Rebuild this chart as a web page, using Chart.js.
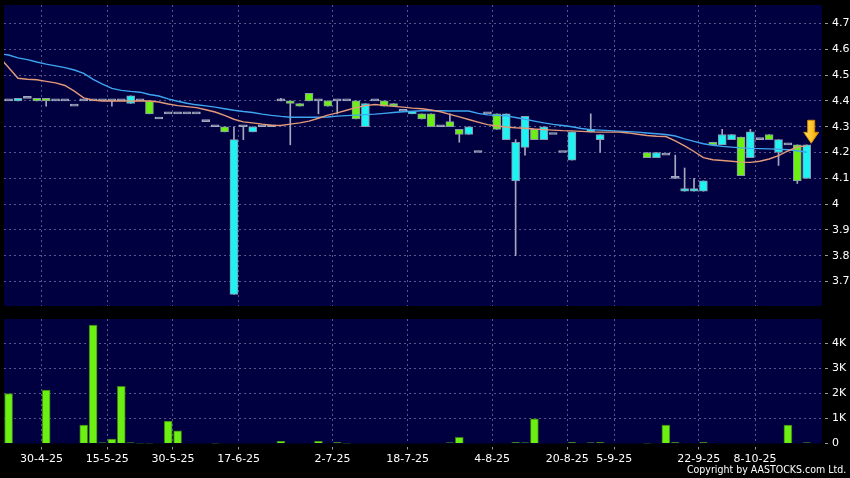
<!DOCTYPE html>
<html>
<head>
<meta charset="utf-8">
<script src="https://cdn.jsdelivr.net/npm/chart.js@4.4.1/dist/chart.umd.min.js"></script>
<style>
  html, body { margin:0; padding:0; background:#000; }
  body { width:850px; height:478px; position:relative; overflow:hidden; }
  canvas { position:absolute; left:0; display:block; }
  #priceCanvas { top:0; }
  #volCanvas { top:310px; }
  #copyright { position:absolute; right:4px; top:464px; color:#fff; font:11px "DejaVu Sans", sans-serif; line-height:12px; white-space:nowrap; transform:scaleX(0.86); transform-origin:right center; }
</style>
</head>
<body>
<canvas id="priceCanvas" width="850" height="310"></canvas>
<canvas id="volCanvas" width="850" height="168"></canvas>
<div id="copyright">Copyright by AASTOCKS.com Ltd.</div>
<script>
// ---------- data (slot 0 is the partly hidden session before the first visible candle) ----------
const dateTickPos    = [4.5, 11.5, 18.5, 25.5, 35.5, 43.5, 52.5, 60.5, 65.5, 74.5, 80.5];
const dateTickLabels = ['30-4-25','15-5-25','30-5-25','17-6-25','2-7-25','18-7-25','4-8-25','20-8-25','5-9-25','22-9-25','8-10-25'];
const priceTicks      = [3.7, 3.8, 3.9, 4.0, 4.1, 4.2, 4.3, 4.4, 4.5, 4.6, 4.7];
const priceTickLabels = ['3.7','3.8','3.9','4','4.1','4.2','4.3','4.4','4.5','4.6','4.7'];
const volTicks      = [0, 1000, 2000, 3000, 4000];
const volTickLabels = ['0','1K','2K','3K','4K'];

const openP = [null,
4.40,4.40,4.41,4.41,4.41,4.40,4.40,4.38,4.40,4.40,
4.40,4.40,4.40,4.39,4.40,4.40,4.33,4.35,4.35,4.35,
4.35,4.32,4.30,4.30,3.65,4.30,4.28,4.30,4.30,4.40,
4.40,4.39,4.43,4.40,4.40,4.40,4.40,4.40,4.30,4.40,
4.40,4.39,4.36,4.35,4.35,4.35,4.30,4.32,4.29,4.27,
4.20,4.35,4.35,4.25,4.09,4.22,4.29,4.25,4.27,4.20,
4.17,null,4.28,4.25,null,null,null,null,4.20,4.18,
4.19,4.10,4.05,4.05,4.05,4.24,4.23,4.25,4.26,4.18,
4.25,4.27,4.20,4.23,4.23,4.10];
const highP = [null,
4.40,4.41,4.41,4.41,4.41,4.40,4.40,4.38,4.40,4.40,
4.40,4.40,4.40,4.42,4.40,4.40,4.33,4.35,4.35,4.35,
4.35,4.32,4.30,4.30,4.30,4.30,4.30,4.30,4.30,4.41,
4.40,4.39,4.43,4.40,4.40,4.40,4.40,4.40,4.39,4.40,
4.40,4.39,4.36,4.36,4.35,4.35,4.30,4.35,4.29,4.30,
4.20,4.35,4.35,4.35,4.25,4.34,4.29,4.30,4.27,4.20,
4.28,null,4.35,4.27,null,null,null,null,4.20,4.20,
4.19,4.19,4.14,4.10,4.09,4.24,4.29,4.27,4.26,4.29,
4.25,4.27,4.25,4.23,4.23,4.23];
const lowP = [null,
4.40,4.40,4.41,4.40,4.38,4.40,4.40,4.38,4.40,4.40,
4.40,4.38,4.40,4.39,4.40,4.35,4.33,4.35,4.35,4.35,
4.35,4.32,4.30,4.28,3.65,4.25,4.28,4.30,4.30,4.40,
4.23,4.38,4.40,4.35,4.38,4.35,4.40,4.33,4.30,4.40,
4.38,4.38,4.36,4.35,4.33,4.30,4.30,4.30,4.24,4.27,
4.20,4.35,4.29,4.25,3.80,4.19,4.25,4.25,4.27,4.20,
4.17,null,4.28,4.20,null,null,null,null,4.18,4.18,
4.19,4.10,4.05,4.05,4.05,4.23,4.23,4.25,4.11,4.18,
4.25,4.25,4.15,4.23,4.08,4.10];
const closeP = [null,
4.40,4.41,4.41,4.40,4.40,4.40,4.40,4.38,4.40,4.40,
4.40,4.40,4.40,4.42,4.40,4.35,4.33,4.35,4.35,4.35,
4.35,4.32,4.30,4.28,4.25,4.30,4.30,4.30,4.30,4.40,
4.39,4.38,4.40,4.40,4.38,4.40,4.40,4.33,4.39,4.40,
4.38,4.38,4.36,4.36,4.33,4.30,4.30,4.30,4.27,4.30,
4.20,4.35,4.29,4.35,4.24,4.34,4.25,4.30,4.27,4.20,
4.28,null,4.29,4.27,null,null,null,null,4.18,4.20,
4.19,4.10,4.06,4.06,4.09,4.23,4.27,4.27,4.11,4.28,
4.25,4.25,4.25,4.23,4.09,4.23];
const volume = [0,
2000,0,0,0,2140,0,0,0,740,4740,
30,180,2290,30,10,10,0,900,510,0,
0,0,10,0,0,0,0,0,0,90,
0,0,0,90,0,40,10,0,0,0,
0,0,0,0,0,0,0,30,250,0,
0,0,0,0,40,30,990,0,0,20,
40,0,30,40,0,0,0,0,10,0,
740,40,0,0,40,0,0,0,0,0,
0,0,0,740,0,30];
const ma10 = [4.570,
4.530,4.488,4.484,4.482,4.476,4.470,4.460,4.438,4.412,4.403,
4.400,4.400,4.400,4.400,4.400,4.400,4.396,4.388,4.382,4.378,
4.374,4.366,4.357,4.344,4.329,4.319,4.315,4.310,4.306,4.305,
4.310,4.315,4.322,4.333,4.345,4.354,4.364,4.374,4.382,4.386,
4.383,4.379,4.376,4.372,4.370,4.365,4.358,4.348,4.338,4.328,
4.318,4.308,4.303,4.299,4.296,4.294,4.291,4.289,4.287,4.285,
4.284,4.282,4.280,4.279,4.279,4.279,4.276,4.271,4.266,4.263,
4.262,4.245,4.226,4.204,4.180,4.172,4.169,4.166,4.163,4.162,
4.166,4.175,4.188,4.206,4.222,4.226];
const ma20 = [4.583,
4.578,4.567,4.560,4.551,4.543,4.536,4.529,4.520,4.507,4.484,
4.465,4.449,4.441,4.437,4.434,4.425,4.419,4.408,4.399,4.391,
4.385,4.381,4.376,4.370,4.364,4.359,4.355,4.349,4.344,4.340,
4.337,4.337,4.337,4.337,4.338,4.341,4.343,4.345,4.347,4.349,
4.352,4.355,4.358,4.360,4.362,4.362,4.362,4.361,4.361,4.361,
4.352,4.346,4.344,4.342,4.336,4.329,4.322,4.315,4.309,4.305,
4.300,4.293,4.289,4.287,4.285,4.283,4.281,4.279,4.276,4.273,
4.270,4.264,4.253,4.243,4.234,4.228,4.224,4.221,4.218,4.216,
4.215,4.214,4.213,4.211,4.207,4.201];

// ---------- styles ----------
const NAVY = '#000040', GRID = '#56568a', TXT = '#ffffff', TICKC = '#9a9aa8';
const CYAN = '#1ef2f2', GREEN = '#6cf014', DOJI = '#a2aabe', EDGE = '#8a96ac', WICK = '#a4a8bc';
const BLUE = '#3ea6f0', ORANGE = '#e49a78';
const VOLC = '#6cf014', VOLEDGE = '#3c7a14';
const FONT = {family: '"DejaVu Sans", sans-serif', size: 11};
const X_MIN = 0.51, X_MAX = 87.63;

// ---------- derived mark data ----------
const bodyData = [], bodyFill = [], bodyEdge = [], wickData = [];
openP.forEach((o, i) => {
  if (o == null) return;
  const c = closeP[i];
  bodyData.push({x: i, y: [Math.min(o, c), Math.max(o, c)]});
  const col = c > o ? CYAN : (c < o ? GREEN : DOJI);
  bodyFill.push(col);
  bodyEdge.push(c === o ? DOJI : EDGE);
  if (highP[i] > lowP[i]) wickData.push({x: i, y: [lowP[i], highP[i]]});
});
const volData = volume.map((v, i) => ({x: i, y: v}));

const bgPlugin = {
  id: 'navyBg',
  beforeDraw(chart) {
    const {ctx, chartArea: a} = chart;
    ctx.save(); ctx.fillStyle = NAVY;
    ctx.fillRect(a.left, a.top, a.right - a.left, a.bottom - a.top);
    ctx.restore();
  }
};

const arrowPlugin = {
  id: 'lastArrow',
  afterDatasetsDraw(chart) {
    const {ctx, scales: {x, y}} = chart;
    const last = openP.length - 1;
    const cx = x.getPixelForValue(last) + 4.5;
    const tip = y.getPixelForValue(highP[last]) - 1.5;
    ctx.save();
    const g = ctx.createLinearGradient(cx - 7.5, 0, cx + 7.5, 0);
    g.addColorStop(0, '#ffe27a'); g.addColorStop(0.5, '#ffc62a'); g.addColorStop(1, '#f0a000');
    ctx.beginPath();
    ctx.moveTo(cx, tip);
    ctx.lineTo(cx - 7.5, tip - 11);
    ctx.lineTo(cx - 3.5, tip - 11);
    ctx.lineTo(cx - 3.5, tip - 23);
    ctx.lineTo(cx + 3.5, tip - 23);
    ctx.lineTo(cx + 3.5, tip - 11);
    ctx.lineTo(cx + 7.5, tip - 11);
    ctx.closePath();
    ctx.fillStyle = g; ctx.fill();
    ctx.strokeStyle = '#d08a00'; ctx.lineWidth = 1; ctx.stroke();
    ctx.restore();
  }
};

function xAxis(showLabels) {
  return {
    type: 'linear', min: X_MIN, max: X_MAX, offset: false,
    afterBuildTicks: s => { s.ticks = dateTickPos.map(v => ({value: v})); },
    afterFit: s => { s.height = showLabels ? 34.5 : 0; s.paddingLeft = 0; s.paddingRight = 0; },
    border: {display: false, dash: [2, 3]},
    grid: {color: GRID, lineWidth: 1, offset: false, drawTicks: showLabels, tickLength: 6,
           tickColor: TICKC, tickBorderDash: [0, 3, 3, 20]},
    ticks: {display: showLabels, autoSkip: false, maxRotation: 0, minRotation: 0,
            color: TXT, font: FONT, padding: 3, callback: (v, i) => dateTickLabels[i]}
  };
}

function yAxis(min, max, tickVals, tickLabels, hideZero) {
  return {
    position: 'right', min: min, max: max, beginAtZero: false,
    afterBuildTicks: s => { s.ticks = tickVals.map(v => ({value: v})); },
    afterFit: s => { s.width = 28; s.paddingTop = 0; s.paddingBottom = 0; },
    border: {display: false, dash: [2, 3]},
    grid: {color: ctx => (hideZero && ctx.tick && ctx.tick.value === 0) ? 'rgba(0,0,0,0)' : GRID,
           drawTicks: true, tickLength: 6, tickColor: TICKC, tickBorderDash: [0, 3, 3, 20]},
    ticks: {color: TXT, font: FONT, padding: 4, callback: (v, i) => tickLabels[i]}
  };
}

const common = {
  responsive: false, animation: false, devicePixelRatio: 1, events: [],
  plugins: {legend: {display: false}, tooltip: {enabled: false}}
};

new Chart(document.getElementById('priceCanvas'), {
  type: 'bar',
  data: {
    datasets: [
      {type: 'line', data: ma10.map((v, i) => ({x: i, y: v})), borderColor: ORANGE, borderWidth: 1.4,
       pointRadius: 0, tension: 0, clip: 0, order: 0},
      {type: 'line', data: ma20.map((v, i) => ({x: i, y: v})), borderColor: BLUE, borderWidth: 1.4,
       pointRadius: 0, tension: 0, clip: 0, order: 1},
      {type: 'bar', data: bodyData, backgroundColor: bodyFill, borderColor: bodyEdge, borderWidth: 1,
       borderSkipped: false, barThickness: 8, minBarLength: 2, grouped: false, order: 2},
      {type: 'bar', data: wickData, backgroundColor: WICK, borderWidth: 0,
       barThickness: 1, grouped: false, order: 3}
    ]
  },
  options: Object.assign({}, common, {
    layout: {padding: {left: 4, top: 5, right: 0, bottom: 4}},
    scales: {
      x: xAxis(false),
      y: yAxis(3.605, 4.772, priceTicks, priceTickLabels, false)
    }
  }),
  plugins: [bgPlugin, arrowPlugin]
});

new Chart(document.getElementById('volCanvas'), {
  type: 'bar',
  data: {
    datasets: [
      {data: volData, backgroundColor: VOLC, borderColor: VOLEDGE, borderWidth: 1,
       barThickness: 8, grouped: false}
    ]
  },
  options: Object.assign({}, common, {
    layout: {padding: {left: 4, top: 9, right: 0, bottom: 0}},
    scales: {
      x: xAxis(true),
      y: yAxis(0, 4980, volTicks, volTickLabels, true)
    }
  }),
  plugins: [bgPlugin]
});
</script>
</body>
</html>
